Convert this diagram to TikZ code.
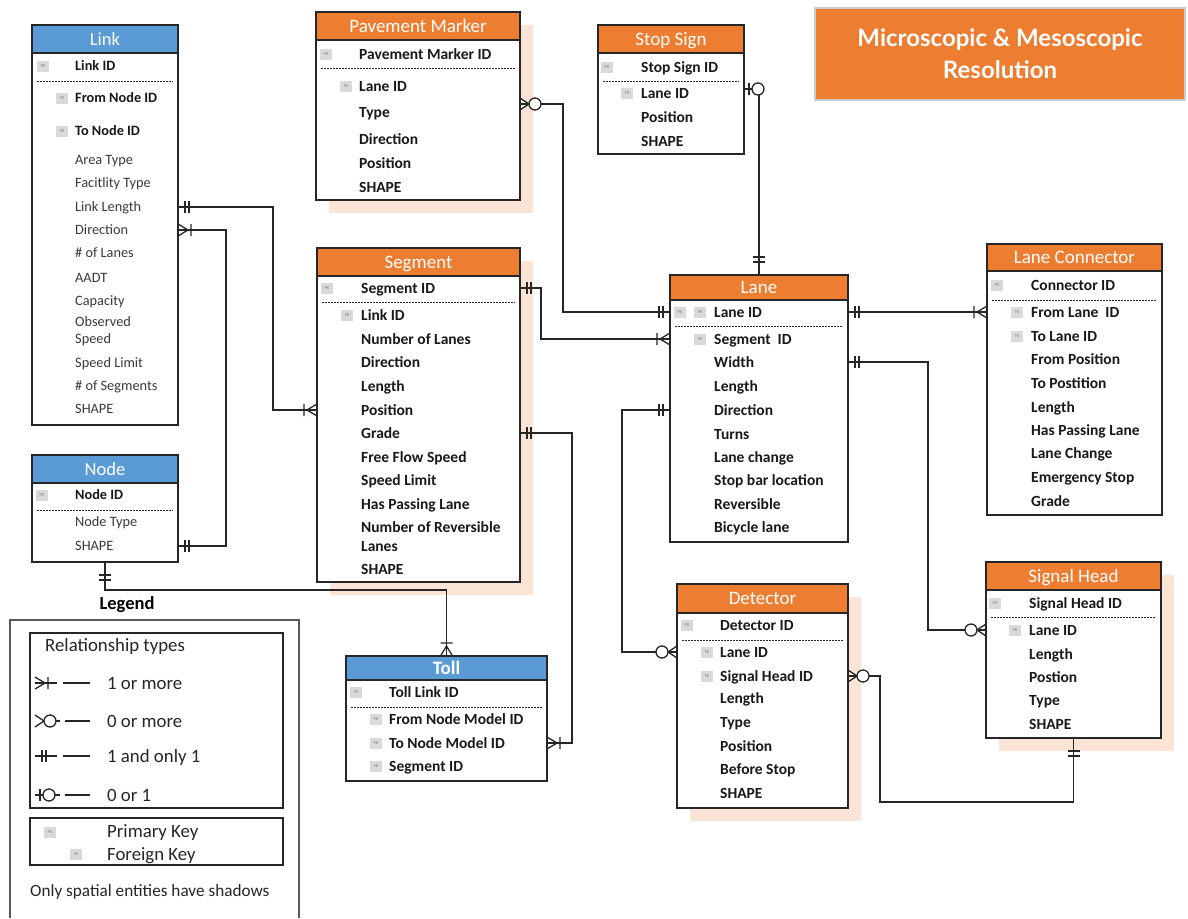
\documentclass[tikz,border=0pt]{standalone}
\usepackage{fontspec}
\setmainfont{Carlito}
\newfontfamily\titlefont{Lato}
\usetikzlibrary{calc}
\definecolor{orng}{HTML}{ED7D31}
\definecolor{blu}{HTML}{5B9BD5}
\definecolor{shd}{HTML}{FBE4D5}
\definecolor{icn}{HTML}{D9D9D9}
\definecolor{txtg}{HTML}{3A3A3A}
\definecolor{lnc}{HTML}{262626}
\tikzset{
  ebox/.style={draw=lnc, line width=1.2pt, fill=white, inner sep=0pt, outer sep=0pt, anchor=north west},
  hdr/.style={draw=lnc, line width=1.2pt, inner sep=0pt, outer sep=0pt, anchor=north west, text=white,
              font=\fontsize{19}{19}\selectfont, text height=12pt, text depth=0pt},
  attrb/.style={anchor=west, inner sep=0pt, font=\bfseries\fontsize{15.5}{15.5}\selectfont, text=black!90, text height=10pt, text depth=0pt},
  attrl/.style={anchor=west, inner sep=0pt, font=\fontsize{14.3}{14.3}\selectfont, text=txtg, text height=9.2pt, text depth=0pt},
  attrlb/.style={attrl, font=\bfseries\fontsize{14.3}{14.3}\selectfont, text=black!90},
  icon/.style={fill=icn, inner sep=0pt, minimum width=12pt, minimum height=11pt, font=\fontsize{4.5}{4.5}\selectfont, text=gray},
  sepline/.style={line width=0.9pt, dash pattern=on 2pt off 1pt, draw=lnc},
  conn/.style={line width=1.3pt, draw=lnc},
  legtxt/.style={anchor=west, inner sep=0pt, font=\fontsize{18.8}{18.8}\selectfont, text=black!85, text height=12.2pt, text depth=0pt},
  one/.pic={\draw[conn] (7,-6) -- (7,6) (11,-6) -- (11,6);},
  onefar/.pic={\draw[conn] (13,-6) -- (13,6) (18,-6) -- (18,6);},
  many1/.pic={\draw[conn] (0,-6) -- (10,0) -- (0,6) (13,-6) -- (13,6);},
  many0/.pic={\draw[conn] (0,-6) -- (9,0) -- (0,6); \draw[conn, fill=white] (15,0) circle[radius=6pt];},
  zo/.pic={\draw[conn] (5,-6) -- (5,6); \draw[conn, fill=white] (14,0) circle[radius=6pt];}
}
\newcommand\ent[8]{%
  \node[ebox, minimum width=#4pt-#2pt, minimum height=#5pt-#3pt] (#1) at (#2,#3) {};
  \node[hdr, fill=#8, minimum width=#4pt-#2pt, minimum height=#6pt-#3pt] (#1-t) at (#2,#3) {#7};}
\newcommand\shad[4]{\fill[shd] (#1+13,#2+13) rectangle (#3+13,#4+13);}
\newcommand\sepl[3]{\draw[sepline] (#1+5,#3) -- (#2-5,#3);}
\newcommand\ic[4]{\node[icon] (#1) at (#2,#3) {#4};}
\newcommand\rw[4]{\node[attrb] (#1) at (#2,#3) {#4};}
\newcommand\rl[4]{\node[attrl] (#1) at (#2,#3) {#4};}
\newcommand\rlb[4]{\node[attrlb] (#1) at (#2,#3) {#4};}
\begin{document}
\begin{tikzpicture}[x=1pt,y=-1pt]
\useasboundingbox (0,0) rectangle (1188,918);
\fill[white] (0,0) rectangle (1188,918);

% shadows
\shad{316}{12}{520}{200}
\shad{317}{248}{520}{582}
\shad{677}{584}{848}{808}
\shad{986}{562}{1161}{738}

% Title
\node[fill=orng, draw=black!20, line width=1.5pt, minimum width=370pt, minimum height=92pt, align=center,
      text=white, font=\titlefont\bfseries\fontsize{24}{32}\selectfont] (title) at (1000,54)
      {Microscopic \& Mesoscopic\\Resolution};

% Link
\ent{lk}{32}{25}{178}{425}{53}{\fontsize{18.5}{18.5}\selectfont Link}{blu}
\ic{lk-i1}{43}{66}{PK}\rlb{lk-id}{75}{66}{Link ID}
\sepl{32}{178}{81}
\ic{lk-i2}{62}{98}{FK}\rlb{lk-from}{75}{98}{From Node ID}
\ic{lk-i3}{62}{131}{FK}\rlb{lk-to}{75}{131}{To Node ID}
\rl{lk-area}{75}{160}{Area Type}
\rl{lk-fac}{75}{183}{Facitlity Type}
\rl{lk-len}{75}{207}{Link Length}
\rl{lk-dir}{75}{230}{Direction}
\rl{lk-lanes}{75}{253}{\# of Lanes}
\rl{lk-aadt}{75}{278}{AADT}
\rl{lk-cap}{75}{301}{Capacity}
\rl{lk-obs}{75}{322}{Observed}
\rl{lk-obs2}{75}{339}{Speed}
\rl{lk-sl}{75}{363}{Speed Limit}
\rl{lk-nseg}{75}{386}{\# of Segments}
\rl{lk-shape}{75}{409}{SHAPE}

% Pavement Marker
\ent{pm}{316}{12}{520}{200}{40}{Pavement Marker}{orng}
\ic{pm-i1}{326}{54}{PK}\rw{pm-id}{359}{54}{Pavement Marker ID}
\sepl{316}{520}{68}
\ic{pm-i2}{346}{86}{FK}\rw{pm-lane}{359}{86}{Lane ID}
\rw{pm-type}{359}{112}{Type}
\rw{pm-dir}{359}{139}{Direction}
\rw{pm-pos}{359}{163}{Position}
\rw{pm-shape}{359}{187}{SHAPE}

% Stop Sign
\ent{ss}{598}{25}{744}{154}{53}{Stop Sign}{orng}
\ic{ss-i1}{607}{67}{PK}\rw{ss-id}{641}{67}{Stop Sign ID}
\sepl{598}{744}{81}
\ic{ss-i2}{627}{93}{FK}\rw{ss-lane}{641}{93}{Lane ID}
\rw{ss-pos}{641}{117}{Position}
\rw{ss-shape}{641}{141}{SHAPE}

% Segment
\ent{sg}{317}{248}{520}{582}{276}{Segment}{orng}
\ic{sg-i1}{327}{288}{PK}\rw{sg-id}{361}{288}{Segment ID}
\sepl{317}{520}{302}
\ic{sg-i2}{347}{315}{FK}\rw{sg-link}{361}{315}{Link ID}
\rw{sg-nl}{361}{339}{Number of Lanes}
\rw{sg-dir}{361}{362}{Direction}
\rw{sg-len}{361}{386}{Length}
\rw{sg-pos}{361}{410}{Position}
\rw{sg-grade}{361}{433}{Grade}
\rw{sg-ffs}{361}{457}{Free Flow Speed}
\rw{sg-sl}{361}{480}{Speed Limit}
\rw{sg-hpl}{361}{504}{Has Passing Lane}
\rw{sg-nrl}{361}{527}{Number of Reversible}
\rw{sg-nrl2}{361}{546}{Lanes}
\rw{sg-shape}{361}{569}{SHAPE}

% Lane
\ent{ln}{670}{275}{848}{542}{300}{Lane}{orng}
\ic{ln-i1}{680}{312}{PK}\ic{ln-i2}{700}{312}{FK}\rw{ln-id}{714}{312}{Lane ID}
\sepl{670}{848}{326}
\ic{ln-i3}{700}{339}{FK}\rw{ln-seg}{714}{339}{Segment\ \ ID}
\rw{ln-width}{714}{362}{Width}
\rw{ln-len}{714}{386}{Length}
\rw{ln-dir}{714}{410}{Direction}
\rw{ln-turns}{714}{434}{Turns}
\rw{ln-lc}{714}{457}{Lane change}
\rw{ln-sbl}{714}{480}{Stop bar location}
\rw{ln-rev}{714}{504}{Reversible}
\rw{ln-bike}{714}{527}{Bicycle lane}

% Lane Connector
\ent{lc}{987}{244}{1162}{515}{271}{Lane Connector}{orng}
\ic{lc-i1}{997}{285}{PK}\rw{lc-id}{1031}{285}{Connector ID}
\sepl{987}{1162}{300}
\ic{lc-i2}{1017}{312}{FK}\rw{lc-from}{1031}{312}{From Lane\ \ ID}
\ic{lc-i3}{1017}{336}{FK}\rw{lc-to}{1031}{336}{To Lane ID}
\rw{lc-fp}{1031}{359}{From Position}
\rw{lc-tp}{1031}{383}{To Postition}
\rw{lc-len}{1031}{407}{Length}
\rw{lc-hpl}{1031}{430}{Has Passing Lane}
\rw{lc-lch}{1031}{453}{Lane Change}
\rw{lc-es}{1031}{477}{Emergency Stop}
\rw{lc-grade}{1031}{501}{Grade}

% Node
\ent{nd}{32}{455}{178}{562}{483}{\fontsize{18.5}{18.5}\selectfont Node}{blu}
\ic{nd-i1}{42}{495}{PK}\rlb{nd-id}{75}{495}{Node ID}
\sepl{32}{178}{510}
\rl{nd-type}{75}{522}{Node Type}
\rl{nd-shape}{75}{546}{SHAPE}

% Toll
\ent{tl}{346}{656}{547}{781}{680}{\bfseries Toll}{blu}
\ic{tl-i1}{356}{692}{PK}\rw{tl-id}{389}{692}{Toll Link ID}
\sepl{346}{547}{707}
\ic{tl-i2}{376}{719}{FK}\rw{tl-from}{389}{719}{From Node Model ID}
\ic{tl-i3}{376}{743}{FK}\rw{tl-to}{389}{743}{To Node Model ID}
\ic{tl-i4}{376}{766}{FK}\rw{tl-seg}{389}{766}{Segment ID}

% Detector
\ent{dt}{677}{584}{848}{808}{613}{Detector}{orng}
\ic{dt-i1}{687}{625}{PK}\rw{dt-id}{720}{625}{Detector ID}
\sepl{677}{848}{640}
\ic{dt-i2}{707}{652}{FK}\rw{dt-lane}{720}{652}{Lane ID}
\ic{dt-i3}{707}{676}{FK}\rw{dt-sh}{720}{676}{Signal Head ID}
\rw{dt-len}{720}{698}{Length}
\rw{dt-type}{720}{722}{Type}
\rw{dt-pos}{720}{746}{Position}
\rw{dt-bs}{720}{769}{Before Stop}
\rw{dt-shape}{720}{793}{SHAPE}

% Signal Head
\ent{sh}{986}{562}{1161}{738}{590}{Signal Head}{orng}
\ic{sh-i1}{995}{603}{PK}\rw{sh-id}{1029}{603}{Signal Head ID}
\sepl{986}{1161}{617}
\ic{sh-i2}{1015}{630}{FK}\rw{sh-lane}{1029}{630}{Lane ID}
\rw{sh-len}{1029}{654}{Length}
\rw{sh-pos}{1029}{677}{Postion}
\rw{sh-type}{1029}{700}{Type}
\rw{sh-shape}{1029}{724}{SHAPE}

% helper coordinates
\coordinate (pm-c) at ($(pm.east |- pm-type)+(0,-8)$);
\coordinate (ss-c) at ($(ss.east |- ss-lane)+(0,-4)$);

% connectors
\draw[conn] (lk.east |- lk-len) -- ++(95,0) |- (sg.west |- sg-pos);
\pic at (lk.east |- lk-len) {one};
\pic[rotate=180] at (sg.west |- sg-pos) {many1};

\draw[conn] (nd.east |- nd-shape) -- ++(48,0) |- (lk.east |- lk-dir);
\pic at (nd.east |- nd-shape) {one};
\pic at (lk.east |- lk-dir) {many1};

\draw[conn] (nd.south) -- ++(0,28) -| (tl.north);
\pic[rotate=-90] at (nd.south) {onefar};
\pic[rotate=90] at (tl.north) {many1};

\draw[conn] (sg.east |- sg-grade) -- ++(52,0) |- (tl.east |- tl-to);
\pic at (sg.east |- sg-grade) {one};
\pic at (tl.east |- tl-to) {many1};

\draw[conn] (sg.east |- sg-id) -- ++(21,0) |- (ln.west |- ln-seg);
\pic at (sg.east |- sg-id) {one};
\pic[rotate=180] at (ln.west |- ln-seg) {many1};

\draw[conn] (pm-c) -- ++(43,0) |- (ln.west |- ln-id);
\pic at (pm-c) {many0};
\pic[rotate=180] at (ln.west |- ln-id) {one};

\draw[conn] (ss-c) -| (ln.north);
\pic at (ss-c) {zo};
\pic[rotate=90] at (ln.north) {onefar};

\draw[conn, line width=1.9pt] (ln.east |- ln-id) -- (lc.west |- ln-id);
\pic at (ln.east |- ln-id) {one};
\pic[rotate=180] at (lc.west |- ln-id) {many1};

\draw[conn] (ln.east |- ln-width) -- ++(80,0) |- (sh.west |- sh-lane);
\pic at (ln.east |- ln-width) {one};
\pic[rotate=180] at (sh.west |- sh-lane) {many0};

\draw[conn] (ln.west |- ln-dir) -- ++(-48,0) |- (dt.west |- dt-lane);
\pic[rotate=180] at (ln.west |- ln-dir) {one};
\pic[rotate=180] at (dt.west |- dt-lane) {many0};

\draw[conn] (dt.east |- dt-sh) -- ++(32,0) -- ++(0,126) -| (sh.south);
\pic at (dt.east |- dt-sh) {many0};
\pic[rotate=-90] at (sh.south) {onefar};

% Legend
\node[inner sep=0pt, font=\bfseries\fontsize{18.5}{18.5}\selectfont, text height=12pt, text depth=0pt] (leg) at (127,603) {Legend};
\draw[black!65, line width=1.6pt] (10,918) -- (10,620) -- (299,620) -- (299,918);
\draw[lnc, line width=1.3pt] (30,633) rectangle (283,808);
\draw[lnc, line width=1.3pt] (30,818) rectangle (283,865);
\node[legtxt] (leg-rt) at (45,645) {Relationship types};
\coordinate (lg1) at (35,683);
\coordinate (lg2) at (35,721);
\coordinate (lg3) at (35,756);
\coordinate (lg4) at (35,795);
\draw[conn] (lg1) -- ++(22,0) ++(6,0) -- ++(27,0);
\pic at (lg1) {many1};
\draw[conn] ($(lg2)+(21,0)$) -- ++(4,0) ++(5,0) -- ++(25,0);
\pic at (lg2) {many0};
\draw[conn] (lg3) -- ++(22,0) ++(6,0) -- ++(27,0);
\pic at (lg3) {one};
\draw[conn] (lg4) -- ++(25,0) ++(5,0) -- ++(25,0);
\pic at (lg4) {zo};
\node[legtxt] (leg-1m) at (107,683) {1 or more};
\node[legtxt] (leg-0m) at (107,721) {0 or more};
\node[legtxt] (leg-11) at (107,756) {1 and only 1};
\node[legtxt] (leg-01) at (107,795) {0 or 1};
\ic{leg-pk}{50}{832}{PK}
\ic{leg-fk}{76}{854}{FK}
\node[legtxt] (leg-pkt) at (107,831) {Primary Key};
\node[legtxt] (leg-fkt) at (107,854) {Foreign Key};
\node[legtxt, font=\fontsize{17.2}{17.2}\selectfont, text height=11pt] (leg-note) at (30,891) {Only spatial entities have shadows};
\end{tikzpicture}
\end{document}
